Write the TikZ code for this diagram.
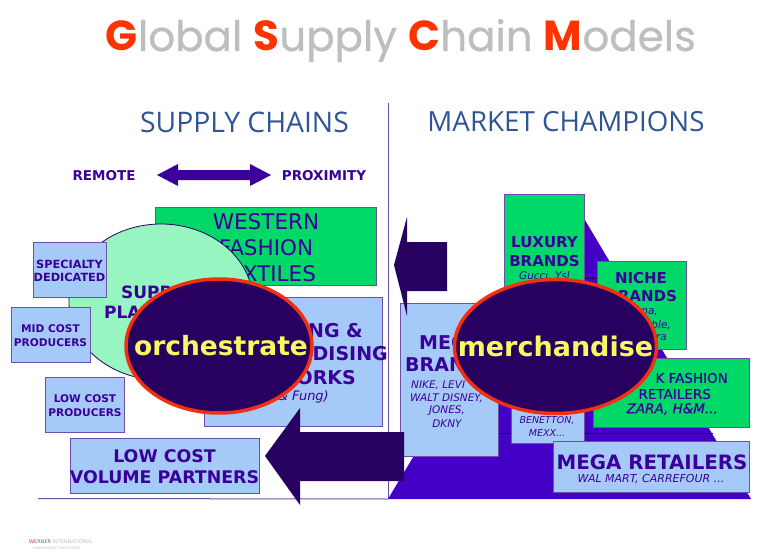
\documentclass[tikz,border=0pt]{standalone}
\usepackage{fontspec}
\setmainfont{DejaVu Sans}
\newfontfamily\titlefont[FakeBold=0.6]{Poppins}
\newfontfamily\capfont{Poppins}
\newfontfamily\semifont[FakeBold=0.5]{DejaVu Sans}
\newfontfamily\headfont{Open Sans}
\usetikzlibrary{shapes.geometric}
\definecolor{boxblue}{HTML}{A6CAF8}
\definecolor{boxedge}{HTML}{6A50A8}
\definecolor{vivid}{HTML}{00D868}
\definecolor{mint}{HTML}{96F5C0}
\definecolor{ink}{HTML}{3A0099}
\definecolor{pyr}{HTML}{4400C4}
\definecolor{navy}{HTML}{280060}
\definecolor{hot}{HTML}{F03010}
\definecolor{lemon}{HTML}{F8F860}
\definecolor{tred}{HTML}{FF3300}
\definecolor{tgrey}{HTML}{BEBEBE}
\definecolor{head}{HTML}{2F5597}
\newcommand{\fs}[2]{\fontsize{#1}{#2}\selectfont}
\newcommand{\tcap}[1]{\textcolor{tred}{\capfont\bfseries #1}}
\tikzset{
  x=1pt,y=-1pt,
  bluebox/.style={draw=boxedge,line width=1pt,fill=boxblue,inner sep=0pt,align=center,text=ink},
  greenbox/.style={draw=boxedge,line width=1pt,fill=vivid,inner sep=0pt,align=center,text=ink},
  lbl/.style={inner sep=0pt,align=center,text=ink},
  bigoval/.style={ellipse,draw=hot,line width=3.5pt,fill=navy,inner sep=0pt},
  ovaltext/.style={inner sep=0pt,text=lemon,font=\bfseries\fs{27}{27}},
  rule/.style={draw=boxedge,line width=1pt},
  arrowfill/.style={fill=navy}
}
\begin{document}
\begin{tikzpicture}
\useasboundingbox (0,0) rectangle (760,559);
\fill[white] (0,0) rectangle (760,559);
% title
\node[inner sep=0pt,anchor=base] (title) at (401,51) {\fs{42}{42}\color{tgrey}\tcap{G}\titlefont lobal \tcap{S}\titlefont upply \tcap{C}\titlefont hain \tcap{M}\titlefont odels};
\node[inner sep=0pt,text=head] (hsc) at (244.5,122) {\headfont\fs{28.3}{28.3}SUPPLY CHAINS};
\node[inner sep=0pt,text=head] (hmc) at (566,122) {\headfont\fs{27.7}{27.7}MARKET CHAMPIONS};
\node[lbl] (remote) at (104,176) {\bfseries\fs{13.5}{13.5}REMOTE};
\node[lbl] (prox) at (324,176) {\bfseries\fs{13.5}{13.5}PROXIMITY};
\fill[ink] (157,175) -- (178,164) -- (178,170) -- (250,170) -- (250,164) -- (271,175) -- (250,186) -- (250,180) -- (178,180) -- (178,186) -- cycle;
% axes
\coordinate (vtop) at (388,103);
\coordinate (vbot) at (388,499);
\coordinate (hleft) at (38,498.5);
\draw[rule] (vtop) -- (vbot);
\draw[rule] (hleft) -- (vbot);
% pyramid
\fill[pyr] (388,499) -- (570,195) -- (751,499) -- cycle;
\draw[navy,line width=.8pt] (498,433) -- (713,433);
\draw[navy,line width=.8pt] (584,278) -- (600,278);
% left side
\node[greenbox,minimum width=221,minimum height=78] (western) at (265.5,246) {};
\node[lbl,font=\fs{21.5}{26}] (westernt) at (266,248) {WESTERN\\FASHION\\TEXTILES};
\node[ellipse,draw=navy,line width=.8pt,fill=mint,minimum width=184,minimum height=156,inner sep=0pt] (plants) at (161,302) {};
\node[lbl,anchor=west] (supp) at (121,292) {\bfseries\fs{17}{17}SUPP};
\node[lbl,anchor=west] (pla) at (104,312) {\bfseries\fs{17}{17}PLA};
\node[bluebox,minimum width=178,minimum height=129] (network) at (293,361.5) {};
\node[lbl,anchor=east] (nl1) at (363,331) {\bfseries\fs{19}{19}NG \&};
\node[lbl,anchor=east] (nl2) at (388,354) {\bfseries\fs{19}{19}DISING};
\node[lbl,anchor=east] (nl3) at (356,378) {\bfseries\fs{19}{19}ORKS};
\node[lbl,anchor=east] (nl4) at (329,397) {\itshape\fs{13}{13}\& Fung)};
\node[bluebox,minimum width=73,minimum height=55] (spec) at (69.5,269.5) {};
\node[lbl,font=\bfseries\fs{11.3}{13}] (spect) at (69.5,270.5) {SPECIALTY\\DEDICATED};
\node[bluebox,minimum width=79,minimum height=55] (mid) at (50.5,334.5) {};
\node[lbl,font=\bfseries\fs{10.6}{13.5}] (midt) at (50.5,335.5) {MID COST\\PRODUCERS};
\node[bluebox,minimum width=79,minimum height=55] (low) at (85,404.5) {};
\node[lbl,font=\bfseries\fs{10.6}{13.5}] (lowt) at (85,405.5) {LOW COST\\PRODUCERS};
\node[bluebox,minimum width=189,minimum height=55] (vol) at (164.5,465.5) {};
\node[lbl,font=\bfseries\fs{17.4}{21}] (volt) at (164.5,467) {LOW COST\\VOLUME PARTNERS};
\node[bigoval,minimum width=186,minimum height=134] (orch) at (219,346) {};
\node[ovaltext,font=\bfseries\fs{26.5}{26.5}] (orcht) at (221,346) {orchestrate};
% right side
\node[greenbox,minimum width=80,minimum height=160,anchor=north west] (lux) at (504,194) {};
\node[lbl,font=\bfseries\fs{15}{19}] (luxt) at (544.5,251.5) {LUXURY\\BRANDS};
\node[lbl] (luxs) at (544.5,276) {\itshape\fs{10.5}{10.5}Gucci, Ysl};
\node[bluebox,minimum width=73,minimum height=90,anchor=south west] (ben) at (511,444) {};
\node[lbl,font=\itshape\fs{9.5}{13}] (bent) at (547,426) {BENETTON,\\MEXX...};
\node[greenbox,minimum width=89,minimum height=88] (niche) at (641.5,305) {};
\node[lbl] (nic1) at (641,278) {\bfseries\fs{15}{15}NICHE};
\node[lbl,anchor=east] (nic2) at (677,296) {\bfseries\fs{15}{15}RANDS};
\node[lbl,anchor=east] (nic3) at (658,312) {\itshape\fs{10.5}{10.5}na,};
\node[lbl,anchor=east] (nic4) at (671,325) {\itshape\fs{10.5}{10.5}ble,};
\node[lbl,anchor=east] (nic5) at (667,338) {\itshape\fs{10.5}{10.5}ra};
\node[greenbox,minimum width=156,minimum height=69] (quick) at (671,392.5) {};
\node[lbl,anchor=east] (q1) at (728,378) {\semifont\fs{13.5}{13.5}K FASHION};
\node[lbl,anchor=east] (q2) at (711,394) {\semifont\fs{13.5}{13.5}RETAILERS};
\node[lbl,anchor=east] (q3) at (718,409) {\semifont\itshape\fs{13.5}{13.5}ZARA, H\&M...};
\node[bluebox,minimum width=196,minimum height=51] (retail) at (651,466.5) {};
\node[lbl] (retailt) at (652,462) {\bfseries\fs{19.8}{19.8}MEGA RETAILERS};
\node[lbl] (retails) at (651,479) {\itshape\fs{11}{11}WAL MART, CARREFOUR ...};
\node[bluebox,minimum width=98,minimum height=153] (mega) at (449,379.5) {};
\node[lbl,anchor=west] (me1) at (419,343) {\bfseries\fs{19}{19}MEG};
\node[lbl,anchor=west] (me2) at (405,365) {\bfseries\fs{19}{19}BRAN};
\node[lbl,anchor=west] (me3) at (411,385) {\itshape\fs{10.5}{10.5}NIKE, LEVI};
\node[lbl,anchor=west] (me4) at (410,398) {\itshape\fs{10.5}{10.5}WALT DISNEY,};
\node[lbl] (me5) at (447,411) {\itshape\fs{10.5}{10.5}JONES,};
\node[lbl] (me6) at (447,424) {\itshape\fs{10.5}{10.5}DKNY};
% arrows
\fill[arrowfill] (394,265) -- (407,217) -- (407,242) -- (447,242) -- (447,291) -- (407,291) -- (407,316) -- cycle;
\fill[arrowfill] (265,456) -- (300,408) -- (300,432) -- (404,432) -- (404,481) -- (300,481) -- (300,505) -- cycle;
\node[bigoval,minimum width=202,minimum height=134] (merch) at (555.5,346.5) {};
\node[ovaltext] (mercht) at (merch.center) {merchandise};
% logo
\node[inner sep=0pt,anchor=west,text=black!55] (logo) at (29,542) {\fs{5}{5}\textcolor{hot}{W}ERNER \textcolor{tgrey}{INTERNATIONAL}};
\node[inner sep=0pt,anchor=west,text=tgrey] (logo2) at (33,548) {\fs{3.2}{3.2}MANAGEMENT CONSULTANTS};
\end{tikzpicture}
\end{document}
